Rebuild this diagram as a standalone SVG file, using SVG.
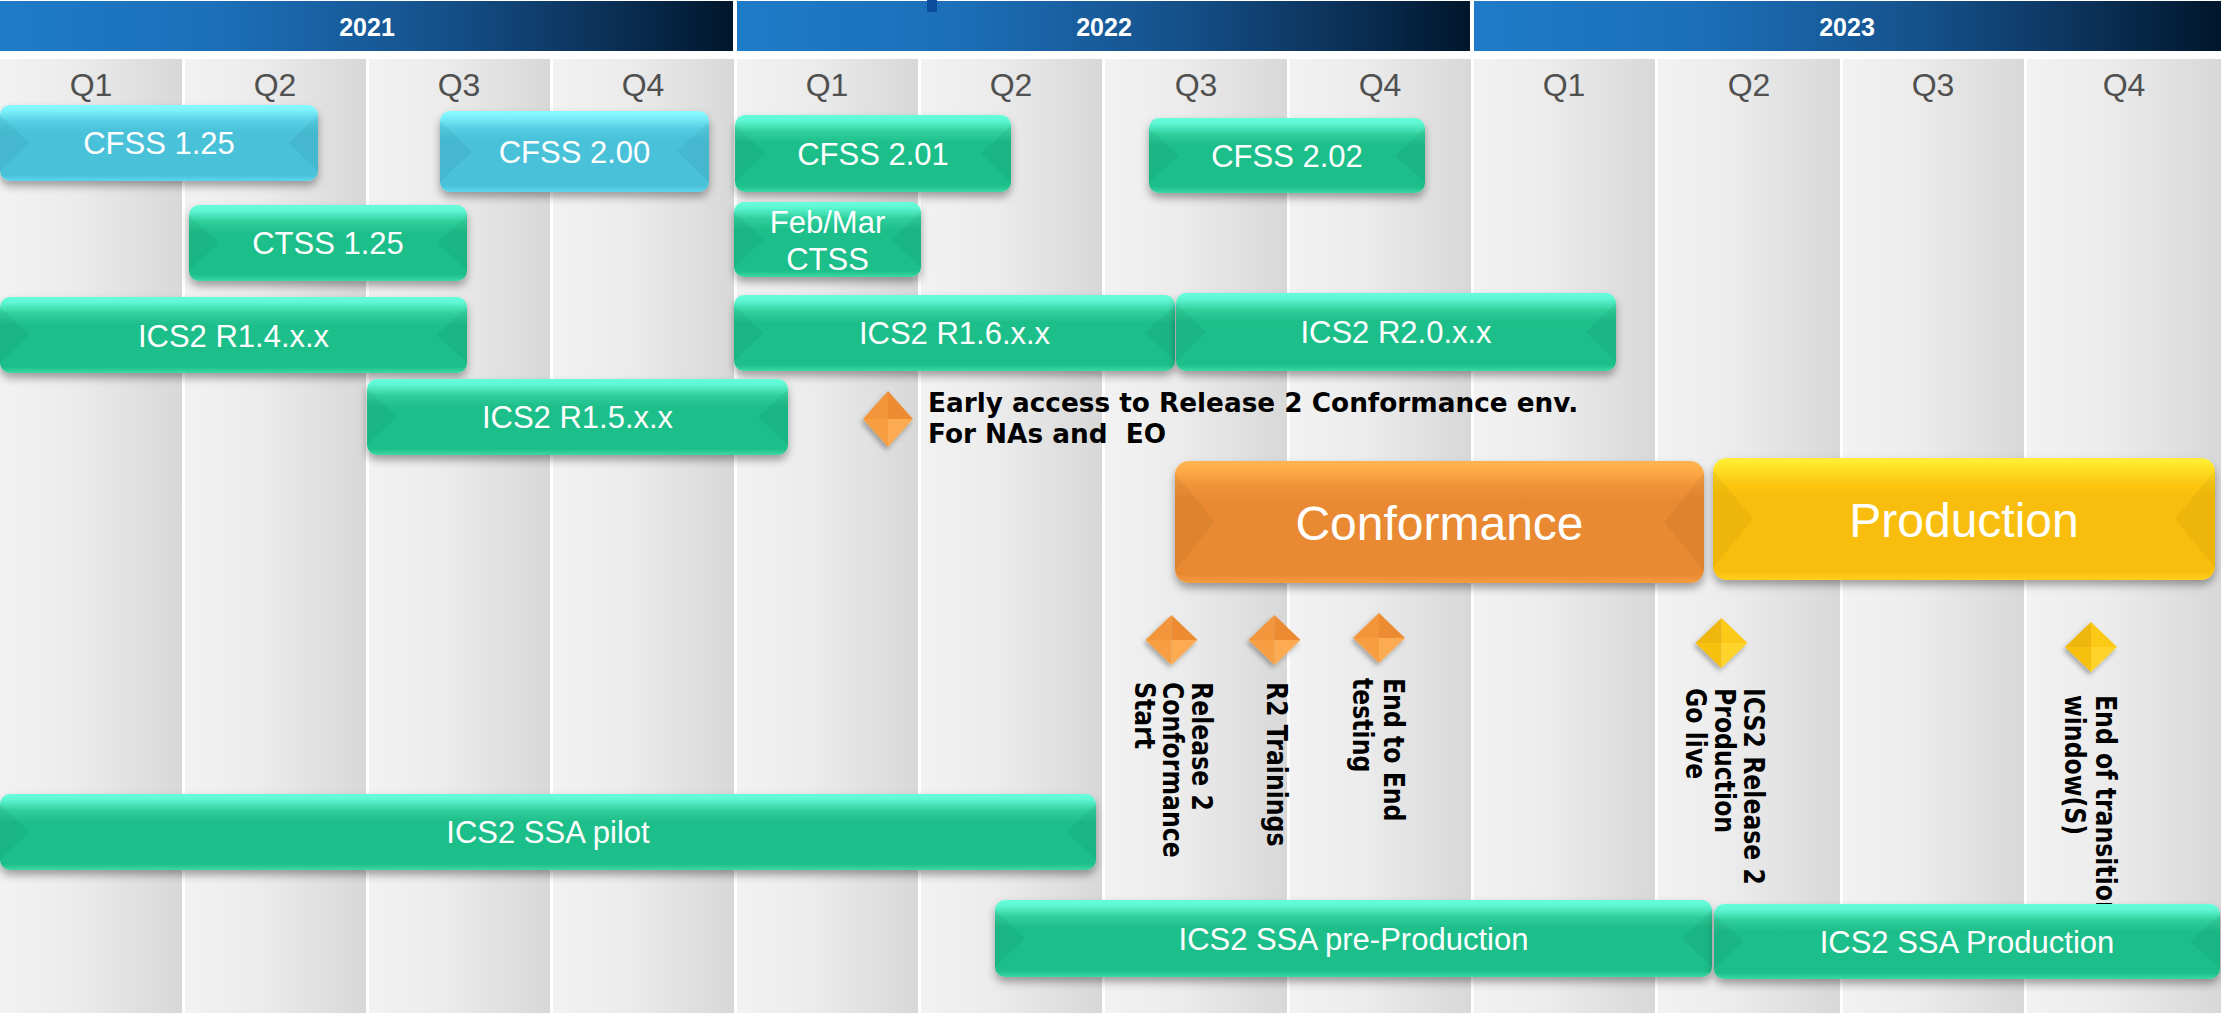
<svg xmlns="http://www.w3.org/2000/svg" xmlns:xlink="http://www.w3.org/1999/xlink" width="2221" height="1013" viewBox="0 0 2221 1013">
<style>
.q{font-family:"Liberation Sans",Arial,sans-serif;font-size:32px;fill:#505050;text-anchor:middle}
.yr{font-family:"Liberation Sans",Arial,sans-serif;font-weight:bold;font-size:25px;fill:#fff;text-anchor:middle}
.bt{font-family:"Liberation Sans",Arial,sans-serif;font-size:31px;fill:#fff;text-anchor:middle}
.big{font-size:48px}
.ms{font-family:"DejaVu Sans",Verdana,sans-serif;font-weight:bold;font-size:23.6px;fill:#000}
.ea{font-family:"DejaVu Sans",Verdana,sans-serif;font-weight:bold;font-size:26.3px;fill:#000}
.bev{fill:#000;fill-opacity:0.045}
.col{fill:url(#gCol)}
.hdr{fill:url(#gHdr)}
</style>
<defs>
<linearGradient id="gHdr" x1="0" y1="0" x2="1" y2="0">
<stop offset="0" stop-color="#1e7bc8"/><stop offset="0.3" stop-color="#1c6fb8"/><stop offset="0.6" stop-color="#15518b"/><stop offset="0.85" stop-color="#0a2d52"/><stop offset="1" stop-color="#00162b"/>
</linearGradient>
<linearGradient id="gCol" x1="0" y1="0" x2="1" y2="0">
<stop offset="0" stop-color="#f2f2f2"/><stop offset="0.4" stop-color="#ececec"/><stop offset="1" stop-color="#d8d8d8"/>
</linearGradient>
<linearGradient id="gG" x1="0" y1="0" x2="0" y2="1">
<stop offset="0" stop-color="#66ffdc"/><stop offset="0.07" stop-color="#5ff7d3"/><stop offset="0.22" stop-color="#2fcf9c"/><stop offset="0.36" stop-color="#1fbe8a"/><stop offset="0.92" stop-color="#1fbe8a"/><stop offset="1" stop-color="#3ad9a6"/>
</linearGradient>
<linearGradient id="gC" x1="0" y1="0" x2="0" y2="1">
<stop offset="0" stop-color="#88fbff"/><stop offset="0.07" stop-color="#7df2fb"/><stop offset="0.22" stop-color="#55cde2"/><stop offset="0.36" stop-color="#48c1d9"/><stop offset="0.92" stop-color="#48c1d9"/><stop offset="1" stop-color="#5fd6ec"/>
</linearGradient>
<linearGradient id="gO" x1="0" y1="0" x2="0" y2="1">
<stop offset="0" stop-color="#ffb552"/><stop offset="0.06" stop-color="#ffad4a"/><stop offset="0.2" stop-color="#f09438"/><stop offset="0.32" stop-color="#e98a33"/><stop offset="0.93" stop-color="#e98a33"/><stop offset="1" stop-color="#f59c44"/>
</linearGradient>
<linearGradient id="gY" x1="0" y1="0" x2="0" y2="1">
<stop offset="0" stop-color="#ffef3a"/><stop offset="0.06" stop-color="#ffe62a"/><stop offset="0.2" stop-color="#fcc813"/><stop offset="0.32" stop-color="#f9be0a"/><stop offset="0.93" stop-color="#f9be0a"/><stop offset="1" stop-color="#ffcf20"/>
</linearGradient>
<filter id="sh" x="-5%" y="-20%" width="110%" height="150%">
<feDropShadow dx="0" dy="5" stdDeviation="4" flood-color="#000" flood-opacity="0.35"/>
</filter>
<filter id="dsh" x="-30%" y="-30%" width="160%" height="160%">
<feDropShadow dx="-2" dy="3" stdDeviation="2.5" flood-color="#000" flood-opacity="0.3"/>
</filter>
<g id="dOr">
<polygon points="-26,0 0,-25 0,0" fill="#f2953a"/>
<polygon points="0,-25 26,0 0,0" fill="#ec8b30"/>
<polygon points="-26,0 0,0 0,25" fill="#f79e43"/>
<polygon points="0,0 26,0 0,25" fill="#fcab52"/>
</g>
<g id="dYe">
<polygon points="-26,0 0,-25 0,0" fill="#efb70a"/>
<polygon points="0,-25 26,0 0,0" fill="#fbc916"/>
<polygon points="-26,0 0,0 0,25" fill="#f6c00e"/>
<polygon points="0,0 26,0 0,25" fill="#ffd42a"/>
</g>
</defs>

<rect x="0" y="0" width="2221" height="1013" fill="#ffffff"/>

<g id="background">
<rect class="col" x="0" y="59" width="182" height="954"/>
<rect class="col" x="185" y="59" width="181" height="954"/>
<rect class="col" x="369" y="59" width="181" height="954"/>
<rect class="col" x="553" y="59" width="181" height="954"/>
<rect class="col" x="737" y="59" width="181" height="954"/>
<rect class="col" x="921" y="59" width="181" height="954"/>
<rect class="col" x="1105" y="59" width="182" height="954"/>
<rect class="col" x="1290" y="59" width="181" height="954"/>
<rect class="col" x="1474" y="59" width="181" height="954"/>
<rect class="col" x="1658" y="59" width="182" height="954"/>
<rect class="col" x="1843" y="59" width="181" height="954"/>
<rect class="col" x="2027" y="59" width="194" height="954"/>
<rect class="hdr" x="0" y="1" width="733" height="50"/>
<rect class="hdr" x="737" y="1" width="733" height="50"/>
<rect class="hdr" x="1474" y="1" width="747" height="50"/>
<rect x="927" y="0" width="10" height="12" fill="#0b4d9c"/>
<text class="yr" x="367" y="36">2021</text>
<text class="yr" x="1104" y="36">2022</text>
<text class="yr" x="1847" y="36">2023</text>
<text class="q" x="91" y="96">Q1</text>
<text class="q" x="275" y="96">Q2</text>
<text class="q" x="459" y="96">Q3</text>
<text class="q" x="643" y="96">Q4</text>
<text class="q" x="827" y="96">Q1</text>
<text class="q" x="1011" y="96">Q2</text>
<text class="q" x="1196" y="96">Q3</text>
<text class="q" x="1380" y="96">Q4</text>
<text class="q" x="1564" y="96">Q1</text>
<text class="q" x="1749" y="96">Q2</text>
<text class="q" x="1933" y="96">Q3</text>
<text class="q" x="2124" y="96">Q4</text>
</g>

<g id="connectors"/>

<g id="cfss125">
<rect x="0" y="105" width="318" height="76" rx="10" fill="url(#gC)" filter="url(#sh)"/>
<path class="bev" d="M0,115 L30,143 L0,171Z"/><path class="bev" d="M318,115 L288,143 L318,171Z"/>
<text class="bt" x="159" y="154">CFSS 1.25</text>
</g>
<g id="cfss200">
<rect x="440" y="111" width="269" height="81" rx="10" fill="url(#gC)" filter="url(#sh)"/>
<path class="bev" d="M440,121 L472,151.5 L440,182Z"/><path class="bev" d="M709,121 L677,151.5 L709,182Z"/>
<text class="bt" x="574.5" y="163">CFSS 2.00</text>
</g>
<g id="cfss201">
<rect x="735" y="115" width="276" height="77" rx="10" fill="url(#gG)" filter="url(#sh)"/>
<path class="bev" d="M735,125 L765,153.5 L735,182Z"/><path class="bev" d="M1011,125 L981,153.5 L1011,182Z"/>
<text class="bt" x="873" y="165">CFSS 2.01</text>
</g>
<g id="cfss202">
<rect x="1149" y="118" width="276" height="75" rx="10" fill="url(#gG)" filter="url(#sh)"/>
<path class="bev" d="M1149,128 L1179,155.5 L1149,183Z"/><path class="bev" d="M1425,128 L1395,155.5 L1425,183Z"/>
<text class="bt" x="1287" y="167">CFSS 2.02</text>
</g>
<g id="ctss125">
<rect x="189" y="205" width="278" height="76" rx="10" fill="url(#gG)" filter="url(#sh)"/>
<path class="bev" d="M189,215 L219,243 L189,271Z"/><path class="bev" d="M467,215 L437,243 L467,271Z"/>
<text class="bt" x="328" y="254">CTSS 1.25</text>
</g>
<g id="febmar">
<rect x="734" y="202" width="187" height="75" rx="10" fill="url(#gG)" filter="url(#sh)"/>
<path class="bev" d="M734,212 L764,239.5 L734,267Z"/><path class="bev" d="M921,212 L891,239.5 L921,267Z"/>
<text class="bt" x="827.5" y="233">Feb/Mar</text>
<text class="bt" x="827.5" y="270">CTSS</text>
</g>
<g id="r14">
<rect x="0" y="297" width="467" height="76" rx="10" fill="url(#gG)" filter="url(#sh)"/>
<path class="bev" d="M0,307 L30,335 L0,363Z"/><path class="bev" d="M467,307 L437,335 L467,363Z"/>
<text class="bt" x="233.5" y="347">ICS2 R1.4.x.x</text>
</g>
<g id="r16">
<rect x="734" y="295" width="441" height="76" rx="10" fill="url(#gG)" filter="url(#sh)"/>
<path class="bev" d="M734,305 L764,333 L734,361Z"/><path class="bev" d="M1175,305 L1145,333 L1175,361Z"/>
<text class="bt" x="954.5" y="344">ICS2 R1.6.x.x</text>
</g>
<g id="r20">
<rect x="1176" y="293" width="440" height="78" rx="10" fill="url(#gG)" filter="url(#sh)"/>
<path class="bev" d="M1176,303 L1206,332 L1176,361Z"/><path class="bev" d="M1616,303 L1586,332 L1616,361Z"/>
<text class="bt" x="1396" y="343">ICS2 R2.0.x.x</text>
</g>
<g id="r15">
<rect x="367" y="379" width="421" height="76" rx="10" fill="url(#gG)" filter="url(#sh)"/>
<path class="bev" d="M367,389 L397,417 L367,445Z"/><path class="bev" d="M788,389 L758,417 L788,445Z"/>
<text class="bt" x="577.5" y="428">ICS2 R1.5.x.x</text>
</g>

<g id="earlyaccess">
<use xlink:href="#dOr" href="#dOr" transform="translate(888,419) scale(0.96,1.12)" filter="url(#dsh)"/>
<text class="ea" x="928" y="412">Early access to Release 2 Conformance env.</text>
<text class="ea" x="928" y="443">For NAs and&#160; EO</text>
</g>

<g id="conformance">
<rect x="1175" y="461" width="529" height="122" rx="14" fill="url(#gO)" filter="url(#sh)"/>
<path class="bev" d="M1175,473 L1215,522 L1175,571Z"/><path class="bev" d="M1704,473 L1664,522 L1704,571Z"/>
<text class="bt big" x="1439.5" y="540">Conformance</text>
</g>
<g id="production">
<rect x="1713" y="458" width="502" height="122" rx="14" fill="url(#gY)" filter="url(#sh)"/>
<path class="bev" d="M1713,470 L1753,519 L1713,568Z"/><path class="bev" d="M2215,470 L2175,519 L2215,568Z"/>
<text class="bt big" x="1964" y="537">Production</text>
</g>

<g id="ms-conf-start">
<use xlink:href="#dOr" href="#dOr" x="1171.5" y="640" filter="url(#dsh)"/>
<text class="ms" transform="translate(1192,682) rotate(90) scale(1,1.18)"><tspan x="0" y="0">Release 2</tspan><tspan x="0" y="24.6">Conformance</tspan><tspan x="0" y="48.3">Start</tspan></text>
</g>
<g id="ms-r2-trainings">
<use xlink:href="#dOr" href="#dOr" x="1274.5" y="640" filter="url(#dsh)"/>
<text class="ms" transform="translate(1267,682) rotate(90) scale(1,1.18)">R2 Trainings</text>
</g>
<g id="ms-e2e">
<use xlink:href="#dOr" href="#dOr" x="1379" y="638" filter="url(#dsh)"/>
<text class="ms" transform="translate(1384,678) rotate(90) scale(1,1.18)"><tspan x="0" y="0">End to End</tspan><tspan x="0" y="26">testing</tspan></text>
</g>
<g id="ms-golive">
<use xlink:href="#dYe" href="#dYe" x="1721.5" y="643" filter="url(#dsh)"/>
<text class="ms" transform="translate(1744,688) rotate(90) scale(1,1.18)"><tspan x="0" y="0">ICS2 Release 2</tspan><tspan x="0" y="24.6">Production</tspan><tspan x="0" y="49.2">Go live</tspan></text>
</g>
<g id="ms-transition">
<use xlink:href="#dYe" href="#dYe" x="2091" y="647" filter="url(#dsh)"/>
<text class="ms" transform="translate(2096,695) rotate(90) scale(1,1.18)"><tspan x="0" y="0">End of transition</tspan><tspan x="0" y="26">window(S)</tspan></text>
</g>

<g id="ssapilot">
<rect x="0" y="794" width="1096" height="76" rx="10" fill="url(#gG)" filter="url(#sh)"/>
<path class="bev" d="M0,804 L30,832 L0,860Z"/><path class="bev" d="M1096,804 L1066,832 L1096,860Z"/>
<text class="bt" x="548" y="843">ICS2 SSA pilot</text>
</g>
<g id="ssapreprod">
<rect x="995" y="900" width="717" height="77" rx="10" fill="url(#gG)" filter="url(#sh)"/>
<path class="bev" d="M995,910 L1025,938.5 L995,967Z"/><path class="bev" d="M1712,910 L1682,938.5 L1712,967Z"/>
<text class="bt" x="1353.5" y="950">ICS2 SSA pre-Production</text>
</g>
<g id="ssaprod">
<rect x="1714" y="904" width="506" height="75" rx="10" fill="url(#gG)" filter="url(#sh)"/>
<path class="bev" d="M1714,914 L1744,941.5 L1714,969Z"/><path class="bev" d="M2220,914 L2190,941.5 L2220,969Z"/>
<text class="bt" x="1967" y="953">ICS2 SSA Production</text>
</g>
</svg>
